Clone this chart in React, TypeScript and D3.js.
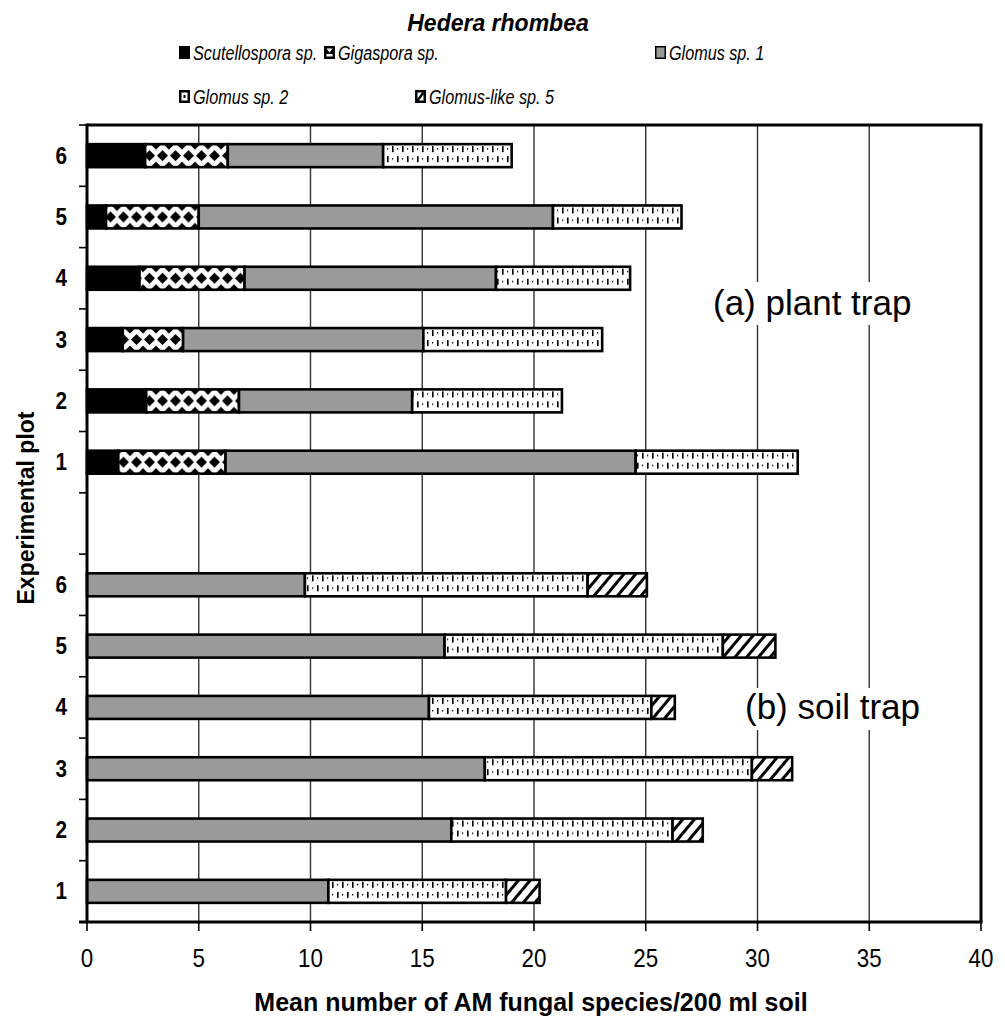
import React from 'react';
import * as d3 from 'd3';

const plotLabels = ['6', '5', '4', '3', '2', '1'];
const plantKeys = ['p6', 'p5', 'p4', 'p3', 'p2', 'p1'];
const soilKeys = ['s6', 's5', 's4', 's3', 's2', 's1'];
const bandKeys = [...plantKeys, 'gap', ...soilKeys];

const seriesNames = ['Scutellospora sp.', 'Gigaspora sp.', 'Glomus sp. 1', 'Glomus sp. 2', 'Glomus-like sp. 5'];
const seriesKeys = ['scut', 'giga', 'glom1', 'glom2', 'glom5'];

// plant trap, order plots 6..1
const plantScut = [2.6, 0.85, 2.35, 1.6, 2.65, 1.4];
const plantGiga = [3.7, 4.15, 4.7, 2.7, 4.15, 4.8];
const plantGlom1 = [6.95, 15.85, 11.25, 10.75, 7.75, 18.35];
const plantGlom2 = [5.75, 5.75, 6.0, 8.0, 6.7, 7.25];
const plantGlom5 = [0, 0, 0, 0, 0, 0];

// soil trap, order plots 6..1
const soilScut = [0, 0, 0, 0, 0, 0];
const soilGiga = [0, 0, 0, 0, 0, 0];
const soilGlom1 = [9.75, 16.0, 15.3, 17.8, 16.3, 10.8];
const soilGlom2 = [12.65, 12.45, 9.95, 11.95, 9.9, 7.95];
const soilGlom5 = [2.65, 2.35, 1.05, 1.8, 1.35, 1.5];

const xTicks = [0, 5, 10, 15, 20, 25, 30, 35, 40];

const FONT = '"Liberation Sans", Arial, sans-serif';

const fills: Record<string, string> = {
  scut: '#000',
  giga: 'url(#pGiga)',
  glom1: '#9a9a9a',
  glom2: 'url(#pGlom2)',
  glom5: 'url(#pGlom5)',
};

function buildRows(keys: string[], a: number[], b: number[], c: number[], d: number[], e: number[]) {
  return keys.map((k, i) => ({ key: k, scut: a[i], giga: b[i], glom1: c[i], glom2: d[i], glom5: e[i] }));
}

export default function App() {
  const W = 1005, H = 1017;
  const x0 = 87, x1 = 981, yTop = 125, yBot = 922;
  const x = d3.scaleLinear().domain([0, 40]).range([x0, x1]);
  const y = d3.scaleBand().domain(bandKeys).range([yTop, yBot]).paddingInner(0).paddingOuter(0);
  const bw = y.bandwidth();
  const barH = 23;

  const rows = [
    ...buildRows(plantKeys, plantScut, plantGiga, plantGlom1, plantGlom2, plantGlom5),
    ...buildRows(soilKeys, soilScut, soilGiga, soilGlom1, soilGlom2, soilGlom5),
  ];
  const stacked = d3.stack<any>().keys(seriesKeys)(rows);

  const labelKey: Record<string, string> = {};
  plantKeys.forEach((k, i) => (labelKey[k] = plotLabels[i]));
  soilKeys.forEach((k, i) => (labelKey[k] = plotLabels[i]));

  const boundaries = d3.range(bandKeys.length + 1).map((i) => yTop + i * bw);

  const legend1 = [
    { i: 0, x: 179, tx: 193 },
    { i: 1, x: 324, tx: 338 },
    { i: 2, x: 655, tx: 669 },
  ];
  const legend2 = [
    { i: 3, x: 179, tx: 193 },
    { i: 4, x: 415, tx: 429 },
  ];

  const legendSwatch = (i: number, lx: number, ly: number) => {
    const k = seriesKeys[i];
    if (k === 'scut') return <rect x={lx} y={ly} width={11} height={13} fill="#000" />;
    if (k === 'glom1') return <rect x={lx + 0.75} y={ly + 0.75} width={9.5} height={11.5} fill="#9a9a9a" stroke="#000" strokeWidth={1.5} />;
    if (k === 'giga')
      return (
        <g>
          <rect x={lx} y={ly} width={11} height={13} fill="#000" />
          <path d={`M${lx + 2.5},${ly + 2.5} L${lx + 8.5},${ly + 2.5} L${lx + 5.5},${ly + 6.5} Z`} fill="#fff" />
          <rect x={lx + 2.5} y={ly + 8} width={6} height={2.5} fill="#fff" />
        </g>
      );
    if (k === 'glom2')
      return (
        <g>
          <rect x={lx} y={ly} width={11} height={13} fill="#000" />
          <rect x={lx + 2.5} y={ly + 2.5} width={6} height={8} fill="#fff" />
          <rect x={lx + 4.5} y={ly + 5} width={2} height={3} fill="#000" />
        </g>
      );
    return (
      <g>
        <rect x={lx} y={ly} width={11} height={13} fill="#000" />
        <rect x={lx + 2.5} y={ly + 2.5} width={6} height={8} fill="#fff" />
        <path d={`M${lx + 2.5},${ly + 10.5} L${lx + 8.5},${ly + 2.5}`} stroke="#000" strokeWidth={2.5} />
      </g>
    );
  };

  return (
    <svg width={W} height={H} style={{ position: 'absolute', left: 0, top: 0, background: '#fff' }} fontFamily={FONT}>
      <defs>
        <pattern id="pGiga" patternUnits="userSpaceOnUse" width={13} height={barH}>
          <rect width={13} height={barH} fill="#fff" />
          <path d={`M6.5,${barH / 2 - 5.5} L12,${barH / 2} L6.5,${barH / 2 + 5.5} L1,${barH / 2} Z`} fill="#000" />
          <path d={`M-5.5,0 L0,-5.5 L5.5,0 L0,5.5 Z`} fill="#000" />
          <path d={`M7.5,0 L13,-5.5 L18.5,0 L13,5.5 Z`} fill="#000" />
          <path d={`M-5.5,${barH} L0,${barH - 5.5} L5.5,${barH} L0,${barH + 5.5} Z`} fill="#000" />
          <path d={`M7.5,${barH} L13,${barH - 5.5} L18.5,${barH} L13,${barH + 5.5} Z`} fill="#000" />
        </pattern>
        <pattern id="pGlom2" patternUnits="userSpaceOnUse" width={10} height={barH}>
          <rect width={10} height={barH} fill="#fff" />
          <rect x={2} y={2} width={1.6} height={6} fill="#000" />
          <rect x={7} y={4} width={1.2} height={1.5} fill="#000" />
          <rect x={7} y={12} width={1.6} height={6} fill="#000" />
          <rect x={2} y={14} width={1.2} height={1.5} fill="#000" />
        </pattern>
        <pattern id="pGlom5" patternUnits="userSpaceOnUse" width={9} height={9} patternTransform="rotate(40)">
          <rect width={9} height={9} fill="#fff" />
          <rect x={0} y={0} width={3} height={9} fill="#000" />
        </pattern>
      </defs>

      {/* title & legend */}
      <text x={498} y={31} textAnchor="middle" fontSize={23} fontWeight="bold" fontStyle="italic">
        Hedera rhombea
      </text>
      {legend1.map((l) => (
        <g key={l.i}>
          {legendSwatch(l.i, l.x, 46)}
          <text transform={`translate(${l.tx},60) scale(0.81,1)`} fontSize={20} fontStyle="italic">
            {seriesNames[l.i]}
          </text>
        </g>
      ))}
      {legend2.map((l) => (
        <g key={l.i}>
          {legendSwatch(l.i, l.x, 90)}
          <text transform={`translate(${l.tx},104) scale(0.81,1)`} fontSize={20} fontStyle="italic">
            {seriesNames[l.i]}
          </text>
        </g>
      ))}

      {/* gridlines */}
      {xTicks.slice(1, -1).map((t) => (
        <line key={t} x1={x(t)} x2={x(t)} y1={yTop} y2={yBot} stroke="#333" strokeWidth={1.4} />
      ))}

      {/* region labels with white background */}
      <rect x={706} y={282} width={226} height={43} fill="#fff" />
      <text x={713} y={315} fontSize={35}>(a) plant trap</text>
      <rect x={738} y={688} width={190} height={42} fill="#fff" />
      <text x={745} y={719} fontSize={35}>(b) soil trap</text>

      {/* bars */}
      {stacked.map((layer) => (
        <g key={layer.key}>
          {layer.map((d, i) => {
            const w = x(d[1]) - x(d[0]);
            if (w <= 0.01) return null;
            const by = (y(rows[i].key) as number) + (bw - barH) / 2;
            return (
              <g key={i} transform={`translate(0,${by})`}>
                <rect x={x(d[0])} y={0} width={w} height={barH} fill={fills[layer.key]} stroke="#000" strokeWidth={2.6} />
              </g>
            );
          })}
        </g>
      ))}

      {/* axes frame */}
      <line x1={x1} x2={x1} y1={yTop} y2={yBot} stroke="#000" strokeWidth={3} />
      <line x1={x0} x2={x1 + 1.5} y1={yTop} y2={yTop} stroke="#000" strokeWidth={3} />
      <line x1={x0} x2={x0} y1={yTop - 1.5} y2={yBot} stroke="#000" strokeWidth={3} />
      <line x1={79} x2={x1 + 1.5} y1={yBot} y2={yBot} stroke="#000" strokeWidth={3} />
      {boundaries.map((b, i) => (
        <line key={i} x1={79} x2={x0} y1={b} y2={b} stroke="#000" strokeWidth={1.6} />
      ))}
      {xTicks.map((t) => (
        <line key={t} x1={x(t)} x2={x(t)} y1={yBot} y2={yBot + 9} stroke="#000" strokeWidth={1.6} />
      ))}

      {/* y tick labels */}
      {[...plantKeys, ...soilKeys].map((k) => (
        <text
          key={k}
          transform={`translate(67,${(y(k) as number) + bw / 2 + 8}) scale(0.9,1)`}
          textAnchor="end"
          fontSize={23}
          fontWeight="bold"
        >
          {labelKey[k]}
        </text>
      ))}

      {/* x tick labels */}
      {xTicks.map((t) => (
        <text key={t} transform={`translate(${x(t)},967) scale(0.86,1)`} textAnchor="middle" fontSize={26}>
          {t}
        </text>
      ))}

      {/* axis titles */}
      <text x={531} y={1011} textAnchor="middle" fontSize={25} fontWeight="bold">
        Mean number of AM fungal species/200 ml soil
      </text>
      <text transform={`translate(34,508) rotate(-90)`} textAnchor="middle" fontSize={23} fontWeight="bold">
        Experimental plot
      </text>
    </svg>
  );
}
